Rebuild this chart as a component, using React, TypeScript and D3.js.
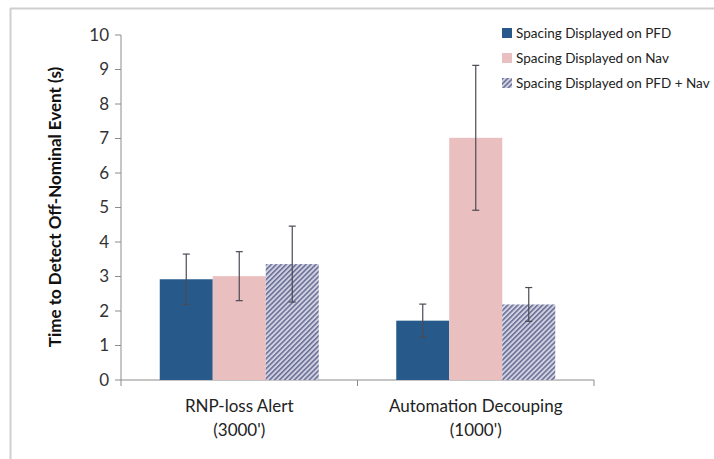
import React from "react";
import * as d3 from "d3";

const categories = ["RNP-loss Alert\n(3000')", "Automation Decouping\n(1000')"];
const seriesNames = [
  "Spacing Displayed on PFD",
  "Spacing Displayed on Nav",
  "Spacing Displayed on PFD + Nav",
];
const pfdValues = [2.92, 1.72];
const navValues = [3.01, 7.02];
const bothValues = [3.36, 2.19];
const pfdErr = [0.73, 0.48];
const navErr = [0.71, 2.1];
const bothErr = [1.1, 0.49];
const yTicks = [0, 1, 2, 3, 4, 5, 6, 7, 8, 9, 10];

const W = 714;
const H = 459;
const margin = { left: 121, right: 120, top: 35, bottom: 79 };
const FONT = "Lato, 'Open Sans', sans-serif";

export default function App() {
  const x0 = d3
    .scaleBand<number>()
    .domain(d3.range(categories.length))
    .range([margin.left, W - margin.right]);
  const y = d3.scaleLinear().domain([0, 10]).range([H - margin.bottom, margin.top]);
  const barW = 53;
  const series = [
    { name: seriesNames[0], values: pfdValues, err: pfdErr, fill: "#275a8b" },
    { name: seriesNames[1], values: navValues, err: navErr, fill: "#e9bfc0" },
    { name: seriesNames[2], values: bothValues, err: bothErr, fill: "url(#hatch)" },
  ];
  const x1 = d3
    .scaleBand<number>()
    .domain(d3.range(series.length))
    .range([-barW * 1.5, barW * 1.5]);
  const axisY = y(0);

  return (
    <svg width={W} height={H} style={{ position: "absolute", left: 0, top: 0, background: "#fff" }}>
      <defs>
        <pattern id="hatch" patternUnits="userSpaceOnUse" width="3.5" height="3.5" patternTransform="rotate(45)">
          <rect width="3.5" height="3.5" fill="#d2d3e2" />
          <rect width="1.6" height="3.5" fill="#6c6f96" />
        </pattern>
      </defs>
      <rect x={0} y={0} width={W} height={H} fill="#fff" />
      {/* frame */}
      <line x1={10.5} y1={8} x2={10.5} y2={H} stroke="#cfcfcf" strokeWidth={2} />
      <line x1={10} y1={8.5} x2={W} y2={8.5} stroke="#cfcfcf" strokeWidth={2} />

      {/* y axis */}
      <line x1={margin.left} y1={y(10)} x2={margin.left} y2={axisY} stroke="#8c8c8c" />
      {yTicks.map((t) => (
        <g key={t}>
          <line x1={margin.left - 6} x2={margin.left} y1={y(t)} y2={y(t)} stroke="#8c8c8c" />
          <text
            x={margin.left - 12}
            y={y(t)}
            dy="0.35em"
            textAnchor="end"
            fontFamily={FONT}
            fontSize={17}
            fill="#333"
          >
            {t}
          </text>
        </g>
      ))}
      <text
        transform={`translate(55,207) rotate(-90)`}
        textAnchor="middle"
        dy="0.35em"
        fontFamily={FONT}
        fontWeight="bold"
        fontSize={17}
        fill="#111"
      >
        Time to Detect Off-Nominal Event (s)
      </text>

      {/* x axis */}
      <line x1={margin.left} x2={W - margin.right} y1={axisY} y2={axisY} stroke="#8c8c8c" />
      {[0, 1, 2].map((i) => {
        const xx = margin.left + i * x0.bandwidth();
        return <line key={i} x1={xx} x2={xx} y1={axisY} y2={axisY + 6} stroke="#8c8c8c" />;
      })}
      {categories.map((c, i) => {
        const cx = (x0(i) as number) + x0.bandwidth() / 2;
        return (
          <text key={c} textAnchor="middle" fontFamily={FONT} fontSize={17} fill="#222">
            {c.split("\n").map((line, j) => (
              <tspan key={j} x={cx} y={axisY + 32 + j * 24}>
                {line}
              </tspan>
            ))}
          </text>
        );
      })}

      {/* bars */}
      {categories.map((c, i) => {
        const cx = (x0(i) as number) + x0.bandwidth() / 2;
        return (
          <g key={c}>
            {series.map((s, k) => {
              const bx = cx + (x1(k) as number);
              return (
                <rect
                  key={k}
                  x={bx}
                  y={y(s.values[i])}
                  width={x1.bandwidth()}
                  height={axisY - y(s.values[i])}
                  fill={s.fill}
                />
              );
            })}
            {series.map((s, k) => {
              const ex = cx + (x1(k) as number) + x1.bandwidth() / 2;
              const top = y(s.values[i] + s.err[i]);
              const bot = y(s.values[i] - s.err[i]);
              return (
                <g key={"e" + k} stroke="#4a4a55" strokeWidth={1.2}>
                  <line x1={ex} x2={ex} y1={top} y2={bot} />
                  <line x1={ex - 3.5} x2={ex + 3.5} y1={top} y2={top} />
                  <line x1={ex - 3.5} x2={ex + 3.5} y1={bot} y2={bot} />
                </g>
              );
            })}
          </g>
        );
      })}

      {/* legend */}
      {series.map((s, k) => (
        <g key={s.name} transform={`translate(502,${33 + k * 25})`}>
          <rect x={0} y={-5} width={10} height={10} fill={s.fill} />
          <text x={14} y={0} dy="0.35em" fontFamily={FONT} fontSize={13.5} fill="#222">
            {s.name}
          </text>
        </g>
      ))}
    </svg>
  );
}
